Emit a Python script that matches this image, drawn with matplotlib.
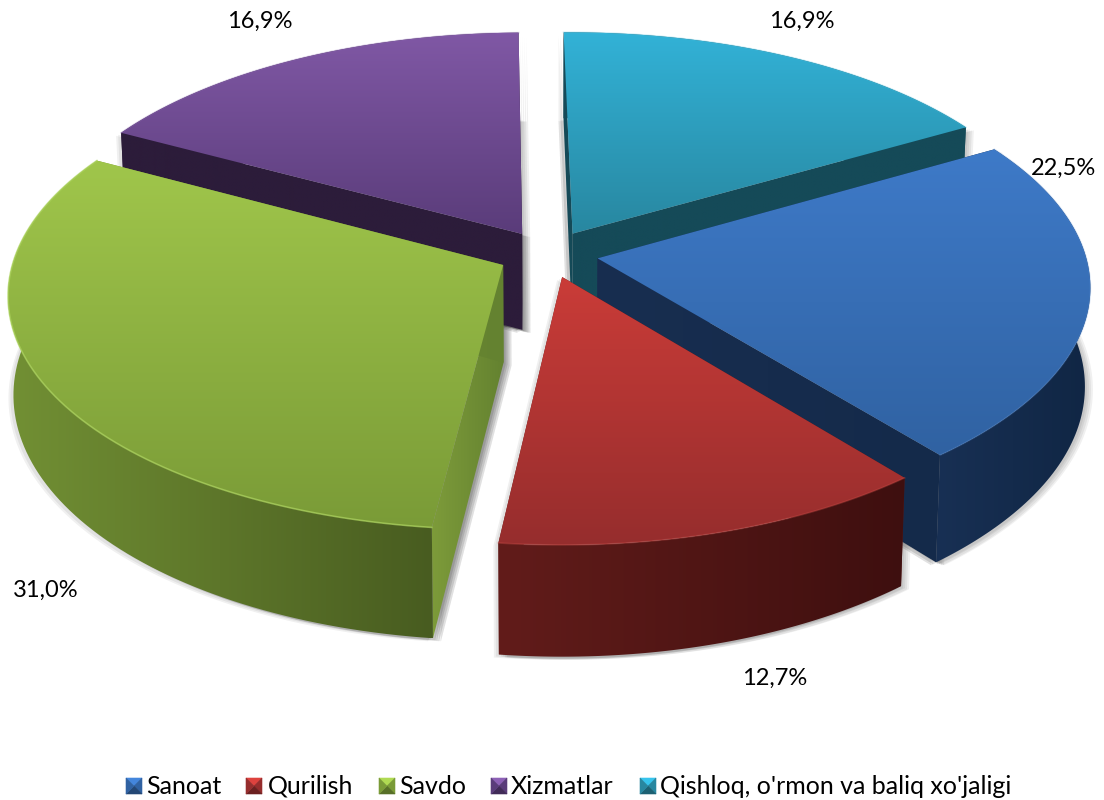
import numpy as np
import matplotlib
matplotlib.use("Agg")
import matplotlib.pyplot as plt
from matplotlib.patches import Polygon

categories = ["Sanoat", "Qurilish", "Savdo", "Xizmatlar", "Qishloq, o'rmon va baliq xo'jaligi"]
values = [22.5, 12.7, 31.0, 16.9, 16.9]
first_angle = 60.0

top_colors = [((62, 122, 200), (48, 98, 162)), ((202, 60, 56), (150, 45, 45)), ((160, 198, 75), (122, 155, 55)),
              ((128, 88, 165), (90, 60, 122)), ((50, 178, 215), (40, 135, 160))]
rim_colors = [((24, 48, 84), (16, 38, 68)), ((98, 28, 26), (62, 15, 15)), ((114, 144, 52), (72, 92, 32)),
              ((44, 28, 58), (44, 28, 58)), ((21, 74, 88), (21, 74, 88))]
face_colors = [((24, 46, 80), (20, 42, 74)), ((98, 28, 26), (98, 28, 26)), ((125, 155, 58), (100, 130, 48)),
               ((44, 28, 58), (44, 28, 58)), ((21, 74, 88), (21, 74, 88))]
edge_colors = [(78, 136, 212), (214, 84, 78), (172, 212, 92), (140, 102, 178), (70, 190, 222)]
edge_alpha = [0.25, 0.3, 0.7, 0.3, 0.3]
label_pos = [(1063, 168), (775, 678), (46, 590), (260, 21), (802, 21)]
legend_x = [126, 246, 379, 491, 640]
legend_text_x = [146, 268, 399, 511, 660]

W, H = 1104, 800
CX, CY, R, QR, P, EXPL, DEPTH = 548, 254, 488, 230, 0.12, 0.103, 97

plt.rcParams["font.family"] = ["Lato", "DejaVu Sans"]
fig = plt.figure(figsize=(W / 100, H / 100), dpi=100)
ax = fig.add_axes([0, 0, 1, 1])
ax.set_xlim(0, W)
ax.set_ylim(H, 0)
ax.axis("off")
ax.set_autoscale_on(False)


def project(x, y, z):
    f = 1 / (1 + P * y)
    return CX + R * x * f * (1 - 0.01 * z), CY - QR * y * f + DEPTH * z * f


def grad_fill(pts, c0, c1, vertical, zorder):
    pts = np.asarray(pts)
    patch = Polygon(pts, closed=True, fc="none", ec="none", transform=ax.transData)
    ax.add_patch(patch)
    x0, y0 = pts.min(0)
    x1, y1 = pts.max(0)
    t = np.linspace(0, 1, 256)
    col = np.array(c0)[None] * (1 - t[:, None]) + np.array(c1)[None] * t[:, None]
    img = (col / 255)[:, None, :] if vertical else (col / 255)[None, :, :]
    im = ax.imshow(img, extent=(x0, x1, y1, y0), aspect="auto", interpolation="bilinear", zorder=zorder)
    im.set_clip_path(patch)
    ax.set_xlim(0, W)
    ax.set_ylim(H, 0)


wedges = []
start = first_angle
for i, v in enumerate(values):
    sweep = v * 3.6
    deg = np.linspace(start, start + sweep, 90)
    a = np.radians(deg)
    mid = np.radians(start + sweep / 2)
    ox, oy = EXPL * np.sin(mid), EXPL * np.cos(mid)
    g = 1 - 0.006 * np.exp(-(((deg - 135)) / 30) ** 2)
    xs, ys = ox + g * np.sin(a), oy + g * np.cos(a)
    arc_top = np.array([project(x, y, 0) for x, y in zip(xs, ys)])
    arc_bot = np.array([project(x, y, 1) for x, y in zip(xs, ys)])
    apex_top = np.array(project(ox, oy, 0))
    apex_bot = np.array(project(ox, oy, 1))
    top = np.vstack([apex_top, arc_top])
    bottom = np.vstack([apex_bot, arc_bot])
    rim = np.vstack([arc_top, arc_bot[::-1]])
    f1 = np.array([apex_top, arc_top[0], arc_bot[0], apex_bot])
    f2 = np.array([apex_top, arc_top[-1], arc_bot[-1], apex_bot])
    wedges.append(dict(i=i, top=top, bottom=bottom, arc=arc_top, rim=rim, f1=f1, f2=f2))
    start += sweep

# soft drop shadow, under every slice
for w in wedges:
    for dx, dy in ((8, 3), (6, 3), (4, 2), (2, 2), (-3, 2), (-5, 3)):
        for key in ("bottom", "f1", "f2"):
            ax.add_patch(Polygon(w[key] + [dx, dy], closed=True, fc="#000000", ec="none",
                                 alpha=0.06, zorder=1))

draw_order = [3, 4, 0, 2, 1]
z = 2
for k in draw_order:
    w = wedges[k]
    grad_fill(w["f1"], *face_colors[k], False, z)
    grad_fill(w["f2"], *face_colors[k], False, z + 0.1)
    grad_fill(w["rim"], *rim_colors[k], False, z + 0.2)
    grad_fill(w["top"], *top_colors[k], True, z + 0.3)
    ax.plot(w["arc"][:, 0], w["arc"][:, 1], color=np.array(edge_colors[k]) / 255, lw=1.2,
            alpha=edge_alpha[k], zorder=z + 0.4)
    z += 1

for v, (x, y) in zip(values, label_pos):
    ax.text(x, y, f"{v:.1f}%".replace(".", ","), ha="center", va="center", fontsize=17, color="#000000", zorder=20)

# legend
ly, s = 786, 16
for k, (name, x, tx) in enumerate(zip(categories, legend_x, legend_text_x)):
    c_hi, c_lo = np.array(top_colors[k][0]), np.array(top_colors[k][1])
    cx, cy = x + s / 2, ly
    sq = [(x, ly - s / 2), (x + s, ly - s / 2), (x + s, ly + s / 2), (x, ly + s / 2)]
    shades = [c_hi * 1.1, c_lo, c_lo * 0.72, c_lo]
    for j in range(4):
        tri = [sq[j], sq[(j + 1) % 4], (cx, cy)]
        col = np.clip(shades[j], 0, 255) / 255
        ax.add_patch(Polygon(tri, closed=True, fc=col, ec=col, lw=0.4, zorder=20))
    ax.text(tx, ly, name, ha="left", va="center", fontsize=18, color="#000000", zorder=20)

fig.savefig("out.png", dpi=100, facecolor="white")
